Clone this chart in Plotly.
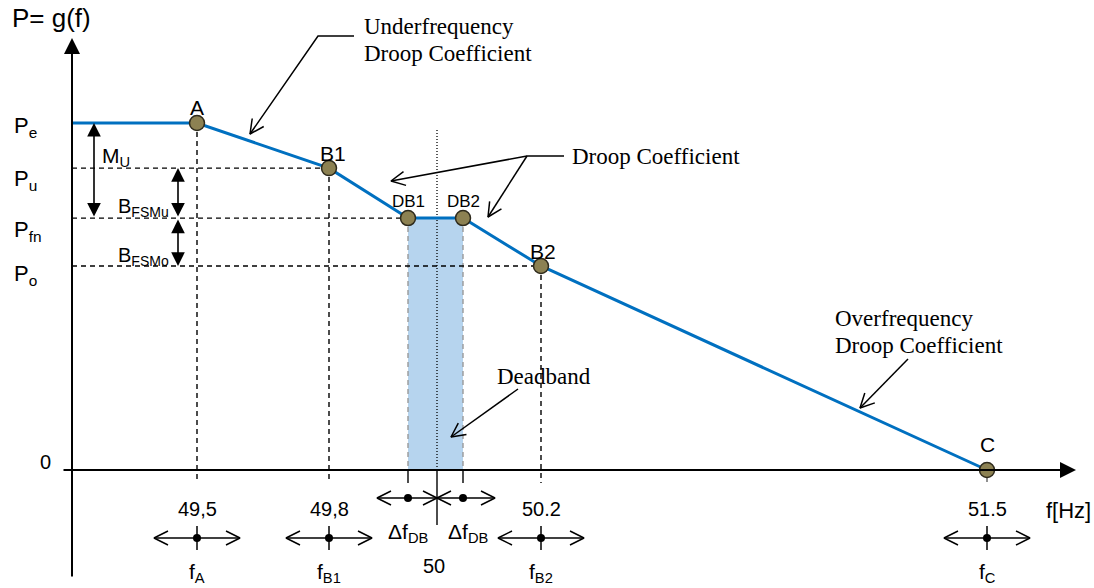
import math
import plotly.graph_objects as go

# ---------------- data ----------------
# characteristic points of the P = g(f) droop curve
point_names = ["A", "B1", "DB1", "DB2", "B2", "C"]
point_pos = [1.25, 2.57, 3.36, 3.91, 4.69, 9.15]        # position along the (schematic) f axis
point_power = [1.0, 0.870, 0.726, 0.726, 0.588, 0.0]    # P, normalised to Pe

# power levels marked on the vertical axis
level_labels = ["P<sub>e</sub>", "P<sub>u</sub>", "P<sub>fn</sub>", "P<sub>o</sub>"]
level_power = [1.0, 0.870, 0.726, 0.588]

# frequencies marked under the horizontal axis
freq_values = ["49,5", "49,8", "50.2", "51.5"]
freq_symbols = ["f<sub>A</sub>", "f<sub>B1</sub>", "f<sub>B2</sub>", "f<sub>C</sub>"]
freq_pos = [1.25, 2.57, 4.69, 9.15]

nominal_label = "50"
nominal_pos = 3.65

# ---------------- layout helpers ----------------
W, H = 1094, 588
SANS = "Liberation Sans, Arial, sans-serif"
SERIF = "Liberation Serif, Times New Roman, serif"
BLUE = "#0070C0"
OLIVE = "#8C8152"


def X(px):
    """page pixel column -> x data units (100 px per unit, origin on the P axis)"""
    return (px - 72) / 100.0


def Y(py):
    """page pixel row -> P data units (0 on the f axis, Pe = 1)"""
    return (470 - py) / 347.0


def PX(x):
    return 72 + 100.0 * x


def PY(y):
    return 470 - 347.0 * y


shapes = []
annotations = []
thin_x, thin_y = [], []   # thin black callout / indicator lines


def seg(x0, y0, x1, y1, dash="solid", width=1.4, color="#000000", layer="below"):
    shapes.append(dict(type="line", xref="x", yref="y", x0=x0, y0=y0, x1=x1, y1=y1,
                       line=dict(color=color, width=width, dash=dash), layer=layer))


def label(t, x, y, size=20, family=SANS, xanchor="center", xshift=0, yshift=0):
    annotations.append(dict(text=t, x=x, y=y, xref="x", yref="y", showarrow=False,
                            xanchor=xanchor, yanchor="middle", xshift=xshift, yshift=yshift,
                            font=dict(family=family, size=size, color="black")))


def filled_arrow(x0, y0, x1, y1, size=1.6, width=2, both=False):
    a = dict(text="", x=x1, y=y1, ax=x0, ay=y0, xref="x", yref="y", axref="x", ayref="y",
             showarrow=True, arrowhead=2, arrowsize=size, arrowwidth=width,
             arrowcolor="black", standoff=0)
    if both:
        a.update(arrowside="end+start", startarrowhead=2, startarrowsize=size, startstandoff=0)
    annotations.append(a)


def polyline(pts):
    for a, b in pts:
        thin_x.append(X(a))
        thin_y.append(Y(b))
    thin_x.append(None)
    thin_y.append(None)


def chevron(frm, tip, length=14.0, spread=7.0):
    dx, dy = tip[0] - frm[0], tip[1] - frm[1]
    n = math.hypot(dx, dy)
    ux, uy = dx / n, dy / n
    nx, ny = -uy, ux
    bx, by = tip[0] - length * ux, tip[1] - length * uy
    polyline([(bx + spread * nx, by + spread * ny), tip, (bx - spread * nx, by - spread * ny)])


def open_arrow(path, both=False):
    """path in page pixels, open arrowhead at the last point (and the first if both)"""
    polyline(path)
    chevron(path[-2], path[-1])
    if both:
        chevron(path[1], path[0])


DASH = "5px,4px"
iA, iB1, iDB1, iDB2, iB2, iC = range(6)

# deadband band
shapes.append(dict(type="rect", xref="x", yref="y", layer="below",
                   x0=point_pos[iDB1], x1=point_pos[iDB2], y0=0, y1=point_power[iDB1],
                   fillcolor="#B6D4EE", line=dict(width=0)))
for i in (iDB1, iDB2):
    seg(point_pos[i], point_power[i], point_pos[i], 0, dash=DASH, color="#9A9A9A", width=1.4)
    seg(point_pos[i], 0, point_pos[i], Y(483), width=1.4)

# horizontal guides from the P axis to the points
for lvl, i in ((1, iB1), (2, iDB1), (3, iB2)):
    seg(0, level_power[lvl], point_pos[i], level_power[lvl], dash=DASH)

# vertical guides from the points down through the f axis
for i in (iA, iB1, iB2):
    seg(point_pos[i], point_power[i], point_pos[i], Y(483), dash=DASH)
seg(point_pos[iC], 0, point_pos[iC], Y(482), color="#555555", width=1.3)

# nominal frequency
seg(nominal_pos, Y(130), nominal_pos, 0, dash="1px,2px", width=1.3)
seg(nominal_pos, 0, nominal_pos, Y(525), width=1.4)

# axes with arrowheads
filled_arrow(X(62), 0, X(1076), 0)
filled_arrow(0, Y(578), 0, Y(38))

# double arrows for the power bands
filled_arrow(X(94), level_power[2], X(94), level_power[0], size=1.7, width=1.6, both=True)
filled_arrow(X(178), level_power[2], X(178), level_power[1], size=1.7, width=1.6, both=True)
filled_arrow(X(178), level_power[2], X(178), level_power[3], size=1.7, width=1.6, both=True)

# frequency indicators under the axis
row_px = 538
for v, s, p in zip(freq_values, freq_symbols, freq_pos):
    open_arrow([(PX(p) - 43, row_px), (PX(p) + 43, row_px)], both=True)
    polyline([(PX(p), 526), (PX(p), 550)])
    label(v, p, Y(509), size=20)
    label(s, p, Y(573), size=21)

drow_px = 498
open_arrow([(PX(nominal_pos) - 60, drow_px), (PX(nominal_pos), drow_px)], both=True)
open_arrow([(PX(nominal_pos), drow_px), (PX(nominal_pos) + 58, drow_px)], both=True)
label("Δf<sub>DB</sub>", point_pos[iDB1], Y(533), size=21)
label("Δf<sub>DB</sub>", point_pos[iDB2], Y(533), size=21, xshift=5)
label(nominal_label, nominal_pos, Y(566), size=20, xshift=-3)
label("f[Hz]", X(1068), Y(510), size=22)

# axis texts
label("P= g(f)", X(10), Y(18), size=26, xanchor="left")
for t, p, dy in zip(level_labels, level_power, (-4, -12, -13, -9)):
    label(t, X(12), p, size=22, xanchor="left", yshift=dy)
label("0", X(45), 0, size=20, yshift=8)
label("M<sub>U</sub>", X(100), Y(157), size=21, xanchor="left")
label("B<sub>FSMu</sub>", X(116), Y(207), size=20, xanchor="left")
label("B<sub>FSMo</sub>", X(116), Y(256), size=20, xanchor="left")

# point names
name_style = [(0, 16, 21), (4, 15, 21), (0, 17, 17), (0, 17, 17), (2, 14, 21), (0, 26, 21)]
for n, x, y, (dx, dy, sz) in zip(point_names, point_pos, point_power, name_style):
    label(n, x, y, size=sz, xshift=dx, yshift=dy)

# callouts
label("Underfrequency", X(362), Y(26), size=23, family=SERIF, xanchor="left")
label("Droop Coefficient", X(362), Y(53), size=23, family=SERIF, xanchor="left")
open_arrow([(354, 36), (318, 36), (250, 134)])

label("Droop Coefficient", X(570), Y(156), size=23, family=SERIF, xanchor="left")
open_arrow([(564, 156), (527, 156), (391, 181)])
open_arrow([(527, 156), (488, 217)])

label("Deadband", X(495), Y(376), size=23, family=SERIF, xanchor="left")
open_arrow([(518, 389), (451, 437)])

label("Overfrequency", X(833), Y(318), size=23, family=SERIF, xanchor="left")
label("Droop Coefficient", X(833), Y(345), size=23, family=SERIF, xanchor="left")
open_arrow([(908, 359), (860, 408)])

# ---------------- traces ----------------
fig = go.Figure()
fig.add_trace(go.Scatter(
    x=[0] + point_pos, y=[level_power[0]] + point_power, mode="lines",
    line=dict(color=BLUE, width=3), hoverinfo="skip"))
fig.add_trace(go.Scatter(x=thin_x, y=thin_y, mode="lines", connectgaps=False,
                         line=dict(color="black", width=1.5), hoverinfo="skip"))
fig.add_trace(go.Scatter(
    x=point_pos, y=point_power, mode="markers", text=point_names,
    marker=dict(size=15, color=OLIVE, line=dict(color="#2E2A1C", width=1.5))))
dot_x = freq_pos + [point_pos[iDB1], point_pos[iDB2]]
dot_y = [Y(row_px)] * len(freq_pos) + [Y(drow_px)] * 2
fig.add_trace(go.Scatter(x=dot_x, y=dot_y, mode="markers",
                         marker=dict(size=8, color="black"), hoverinfo="skip"))

fig.update_layout(
    width=W, height=H, margin=dict(l=0, r=0, t=0, b=0),
    paper_bgcolor="white", plot_bgcolor="white", showlegend=False,
    xaxis=dict(range=[X(0), X(W)], visible=False, fixedrange=True),
    yaxis=dict(range=[Y(H), Y(0)], visible=False, fixedrange=True),
    shapes=shapes, annotations=annotations,
)
fig.write_html("out.html")
